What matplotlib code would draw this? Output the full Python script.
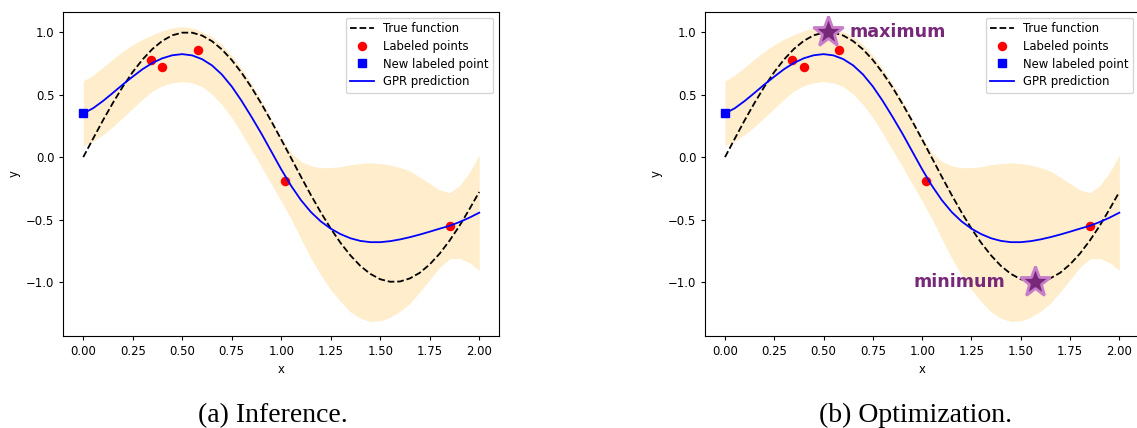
#!/usr/bin/env python3
"""
GPR inference / optimization figure: true function, labeled points,
GPR mean and its uncertainty band, shown twice side by side
"""

import numpy as np
from matplotlib import pyplot as plt

# Grid the curves were read on (step 0.05)
x_grid = np.linspace(0, 2, 41)

# True function
true_y = [0.000, 0.149, 0.296, 0.435, 0.565, 0.682, 0.783, 0.867, 0.932, 0.976,
          0.997, 0.997, 0.974, 0.929, 0.863, 0.778, 0.675, 0.558, 0.427, 0.287,
          0.141, -0.008, -0.158, -0.304, -0.443, -0.572, -0.688, -0.788, -0.872, -0.935,
          -0.978, -0.998, -0.996, -0.971, -0.926, -0.859, -0.773, -0.669, -0.551, -0.418,
          -0.279]

# GPR mean prediction
gpr_mean = [0.350, 0.392, 0.450, 0.515, 0.582, 0.645, 0.705, 0.755, 0.792, 0.816,
            0.825, 0.815, 0.785, 0.735, 0.662, 0.566, 0.450, 0.322, 0.188, 0.045,
            -0.098, -0.230, -0.345, -0.440, -0.515, -0.573, -0.617, -0.650, -0.671, -0.681,
            -0.681, -0.673, -0.659, -0.641, -0.620, -0.597, -0.573, -0.550, -0.520, -0.485,
            -0.445]

# Half width of the shaded confidence band
gpr_halfwidth = [0.26, 0.265, 0.27, 0.27, 0.265, 0.255, 0.24, 0.225, 0.22, 0.22,
                 0.22, 0.22, 0.22, 0.23, 0.24, 0.25, 0.26, 0.265, 0.265, 0.26,
                 0.255, 0.265, 0.31, 0.37, 0.43, 0.49, 0.54, 0.59, 0.62, 0.635,
                 0.63, 0.61, 0.575, 0.53, 0.46, 0.385, 0.31, 0.265, 0.29, 0.36,
                 0.46]

# Labeled points
lab_x = [0.34, 0.40, 0.58, 1.02, 1.85]
lab_y = [0.78, 0.72, 0.86, -0.19, -0.55]

# New labeled point
new_x = [0.0]
new_y = [0.35]

# Optimum markers for panel (b)
max_xy = (0.52, 1.0)
min_xy = (1.57, -1.0)

captions = ['(a) Inference.', '(b) Optimization.']

FS = 8.4
PURPLE = '#782878'

plt.rcParams['font.size'] = FS
plt.rcParams['axes.linewidth'] = 0.8

fig = plt.figure(figsize=(11.37, 4.28), dpi=100)
ax_a = fig.add_axes([0.0558, 0.2157, 0.3831, 0.7570])
ax_b = fig.add_axes([0.6203, 0.2157, 0.3815, 0.7570])

mean = np.array(gpr_mean)
hw = np.array(gpr_halfwidth)

for ax in (ax_a, ax_b):
    ax.plot(x_grid, true_y, 'k--', lw=1.3, label='True function')
    ax.plot(lab_x, lab_y, 'o', color='red', ms=5.8, ls='none', label='Labeled points')
    ax.plot(new_x, new_y, 's', color='blue', ms=6.2, ls='none', label='New labeled point')
    ax.fill_between(x_grid, mean - hw, mean + hw, color='orange', alpha=0.2, lw=0)
    ax.plot(x_grid, gpr_mean, 'b-', lw=1.3, label='GPR prediction')
    ax.set_xticks([0.0, 0.25, 0.5, 0.75, 1.0, 1.25, 1.5, 1.75, 2.0])
    ax.set_xticklabels(['0.00', '0.25', '0.50', '0.75', '1.00', '1.25', '1.50', '1.75', '2.00'])
    ax.set_yticks([-1.0, -0.5, 0.0, 0.5, 1.0])
    ax.set_xlim(-0.1, 2.1)
    ax.set_ylim(-1.43, 1.165)
    ax.tick_params(labelsize=FS, length=3, width=0.8)
    ax.set_xlabel('x', fontsize=FS)
    ax.set_ylabel('y', fontsize=FS)
    ax.legend(loc='upper right', fontsize=FS, labelspacing=0.4)

# Mark the maximum and minimum in panel (b)
for (sx, sy) in (max_xy, min_xy):
    ax_b.plot(sx, sy, marker='*', ms=23, mfc=PURPLE, mec='#C87DC8', mew=2.0, zorder=5)
ax_b.text(0.63, 1.0, 'maximum', color=PURPLE, fontsize=12.6, fontweight='bold',
          ha='left', va='center')
ax_b.text(1.42, -1.0, 'minimum', color=PURPLE, fontsize=12.6, fontweight='bold',
          ha='right', va='center')

# Sub-figure captions
fig.text(0.240, 0.014, captions[0], family='Liberation Serif', fontsize=20,
         ha='center', va='baseline')
fig.text(0.805, 0.014, captions[1], family='Liberation Serif', fontsize=20,
         ha='center', va='baseline')

fig.savefig('out.png', dpi=100)
